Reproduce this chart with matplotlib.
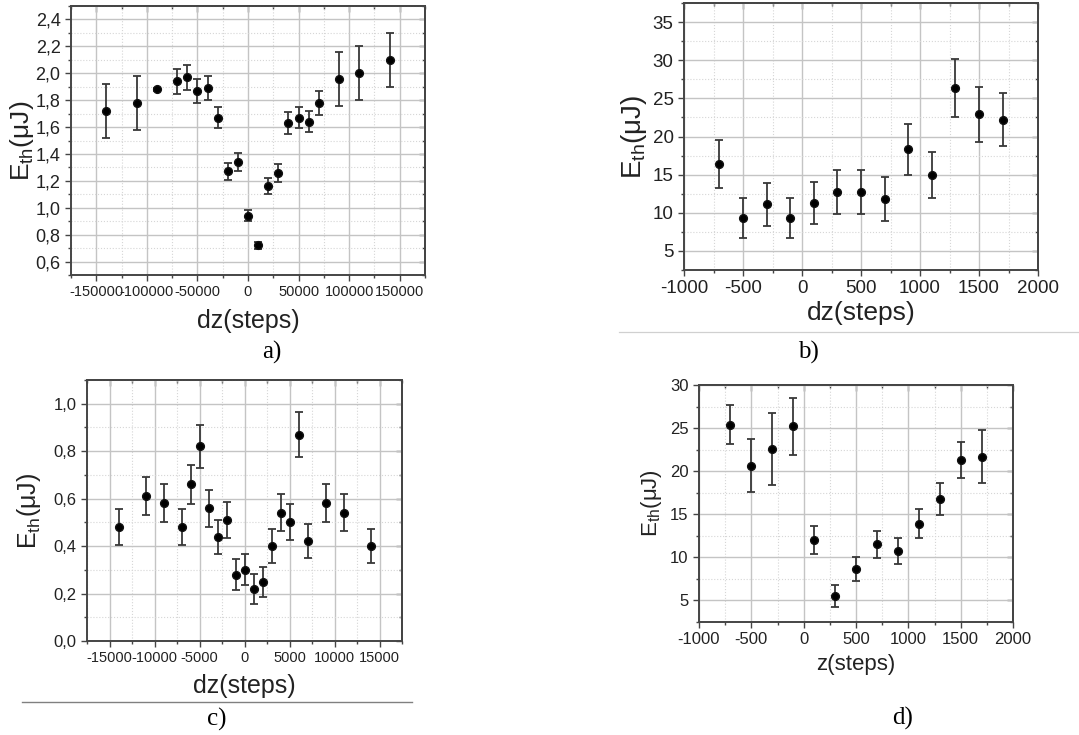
import matplotlib
matplotlib.use('Agg')
import matplotlib.pyplot as plt
from matplotlib.ticker import MultipleLocator, FuncFormatter
from matplotlib.lines import Line2D

plt.rcParams['font.family'] = ['Liberation Sans', 'DejaVu Sans']
plt.rcParams['mathtext.default'] = 'regular'
plt.rcParams['axes.unicode_minus'] = False

W, H = 1079, 735

# a) Eth vs dz (large steps)
a_dz = [-140000, -110000, -90000, -70000, -60000, -50000, -40000, -30000, -20000, -10000, 0,
        10000, 20000, 30000, 40000, 50000, 60000, 70000, 90000, 110000, 140000]
a_eth = [1.72, 1.78, 1.88, 1.94, 1.97, 1.87, 1.89, 1.67, 1.27, 1.34, 0.94,
         0.72, 1.16, 1.26, 1.63, 1.67, 1.64, 1.78, 1.96, 2.00, 2.10]
a_err = [0.20, 0.20, 0.01, 0.095, 0.095, 0.09, 0.09, 0.08, 0.065, 0.07, 0.04,
         0.027, 0.06, 0.065, 0.08, 0.08, 0.08, 0.09, 0.20, 0.20, 0.20]

# b) Eth vs dz
b_dz = [-700, -500, -300, -100, 100, 300, 500, 700, 900, 1100, 1300, 1500, 1700]
b_eth = [16.4, 9.3, 11.1, 9.3, 11.3, 12.7, 12.7, 11.8, 18.3, 15.0, 26.4, 22.9, 22.2]
b_err = [3.15, 2.65, 2.8, 2.65, 2.8, 2.9, 2.9, 2.85, 3.3, 3.0, 3.8, 3.6, 3.5]

# c) Eth vs dz (small steps)
c_dz = [-14000, -11000, -9000, -7000, -6000, -5000, -4000, -3000, -2000, -1000, 0,
        1000, 2000, 3000, 4000, 5000, 6000, 7000, 9000, 11000, 14000]
c_eth = [0.48, 0.61, 0.58, 0.48, 0.66, 0.82, 0.56, 0.44, 0.51, 0.28, 0.30,
         0.22, 0.25, 0.40, 0.54, 0.50, 0.87, 0.42, 0.58, 0.54, 0.40]
c_err = [0.075, 0.08, 0.08, 0.075, 0.083, 0.09, 0.078, 0.072, 0.077, 0.065, 0.065,
         0.062, 0.063, 0.07, 0.078, 0.076, 0.094, 0.072, 0.08, 0.078, 0.07]

# d) Eth vs z
d_z = [-700, -500, -300, -100, 100, 300, 500, 700, 900, 1100, 1300, 1500, 1700]
d_eth = [25.4, 20.65, 22.55, 25.2, 12.0, 5.5, 8.65, 11.5, 10.75, 13.9, 16.75, 21.3, 21.7]
d_err = [2.3, 3.05, 4.15, 3.3, 1.6, 1.3, 1.45, 1.6, 1.55, 1.7, 1.85, 2.1, 3.1]

YLABEL = r'E$_{th}$(μJ)'
SPINE = '#454545'
TEXT = '#222222'


def box(left, top, right, bottom):
    # pixel box -> figure fraction rect
    return [left / W, 1 - bottom / H, (right - left) / W, (bottom - top) / H]


def comma(v, pos):
    return f'{v:.1f}'.replace('.', ',')


def style_ticks(axis_obj, direction):
    axis_obj.tick_params(which='both', direction=direction, color=SPINE, width=1.0)
    axis_obj.tick_params(which='major', length=4.5)
    axis_obj.tick_params(which='minor', length=2.5)


def panel(fig, rect, x, y, err, xlim, ylim, xstep, ystep, xlabel,
          xtick_fs, ytick_fs, xlab_fs, ylab_fs, ylab_x, xlab_y, decimal_comma=False):
    ax = fig.add_axes(rect)
    ax.errorbar(x, y, yerr=err, fmt='o', color='black', ms=5.6, mec='#111111',
                ecolor='#383838', elinewidth=1.3, capsize=2.6, capthick=1.3, zorder=3)
    ax.set_xlim(*xlim)
    ax.set_ylim(*ylim)
    ax.xaxis.set_major_locator(MultipleLocator(xstep))
    ax.xaxis.set_minor_locator(MultipleLocator(xstep / 2))
    ax.yaxis.set_major_locator(MultipleLocator(ystep))
    ax.yaxis.set_minor_locator(MultipleLocator(ystep / 2))
    if decimal_comma:
        ax.yaxis.set_major_formatter(FuncFormatter(comma))
    ax.grid(which='major', color='#c4c4c4', lw=1.0, zorder=0)
    ax.grid(which='minor', color='#d6d6d6', lw=0.8, ls=':', zorder=0)
    ax.set_axisbelow(True)
    for s in ax.spines.values():
        s.set_color(SPINE)
        s.set_linewidth(1.4)
    style_ticks(ax, 'out')
    ax.tick_params(axis='x', labelsize=xtick_fs, labelcolor=TEXT, pad=3)
    ax.tick_params(axis='y', labelsize=ytick_fs, labelcolor=TEXT, pad=3)

    # mirrored axes with inward ticks, no labels
    top = ax.secondary_xaxis('top')
    top.xaxis.set_major_locator(MultipleLocator(xstep))
    top.xaxis.set_minor_locator(MultipleLocator(xstep / 2))
    style_ticks(top, 'in')
    top.tick_params(labeltop=False)
    right = ax.secondary_yaxis('right')
    right.yaxis.set_major_locator(MultipleLocator(ystep))
    right.yaxis.set_minor_locator(MultipleLocator(ystep / 2))
    style_ticks(right, 'in')
    right.tick_params(labelright=False)
    for sec in (top, right):
        for s in sec.spines.values():
            s.set_color(SPINE)
            s.set_linewidth(1.4)

    ax.set_xlabel(xlabel, fontsize=xlab_fs, color=TEXT)
    ax.set_ylabel(YLABEL, fontsize=ylab_fs, color=TEXT)
    ax.xaxis.set_label_coords(0.5, xlab_y)
    ax.yaxis.set_label_coords(ylab_x, 0.5)
    return ax


fig = plt.figure(figsize=(W / 100, H / 100), dpi=100)

panel(fig, box(71, 6, 425, 275), a_dz, a_eth, a_err, (-175000, 175000), (0.5, 2.5),
      50000, 0.2, 'dz(steps)', 10.5, 13, 18, 19, -0.10, -0.125, decimal_comma=True)
panel(fig, box(684, 3, 1038, 270), b_dz, b_eth, b_err, (-1000, 2000), (2.5, 37.5),
      500, 5, 'dz(steps)', 13.5, 13.5, 19, 20, -0.10, -0.115)
panel(fig, box(87, 380, 402, 641), c_dz, c_eth, c_err, (-17500, 17500), (0, 1.1),
      5000, 0.2, 'dz(steps)', 10.5, 12, 18, 18, -0.14, -0.125, decimal_comma=True)
panel(fig, box(699, 385, 1013, 622), d_z, d_eth, d_err, (-1000, 2000), (2.5, 30),
      500, 5, 'z(steps)', 12, 12, 16, 16, -0.11, -0.135)

# separators from the page layout
fig.add_artist(Line2D([619 / W, 1], [1 - 332 / H] * 2, color='#d0d0d0', lw=0.9))
fig.add_artist(Line2D([22 / W, 412 / W], [1 - 702 / H] * 2, color='#808080', lw=1.0))

for lab, px, py in [('a)', 272, 352), ('b)', 808, 352), ('c)', 217, 719), ('d)', 903, 718)]:
    fig.text(px / W, 1 - py / H, lab, fontsize=18, family='Liberation Serif',
             ha='center', va='center')

fig.savefig('out.png', dpi=100)
